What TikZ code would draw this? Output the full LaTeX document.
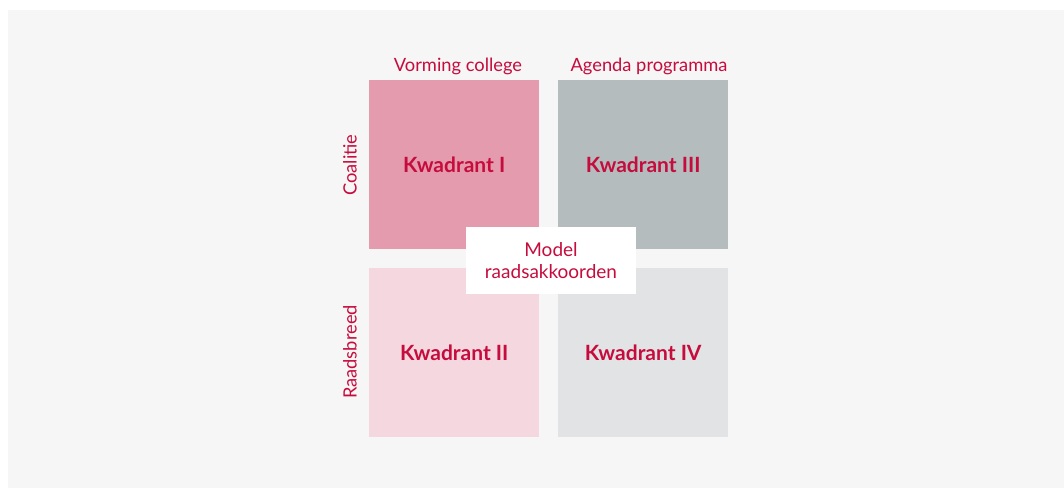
\documentclass[tikz,border=0pt]{standalone}
\usepackage{fontspec}
\setmainfont{Lato}
\definecolor{bgc}{HTML}{F6F6F6}
\definecolor{txt}{HTML}{C60C3D}
\definecolor{qone}{HTML}{E49BAE}
\definecolor{qtwo}{HTML}{F5D7DF}
\definecolor{qthree}{HTML}{B4BCBD}
\definecolor{qfour}{HTML}{E2E3E5}
\tikzset{
  quad/.style={minimum width=170pt, minimum height=169pt, inner sep=0pt, anchor=north west, text=txt, font=\fontsize{21}{24}\selectfont\bfseries},
  lab/.style={text=txt, font=\fontsize{18.3}{22}\selectfont, inner sep=0pt},
  modelbox/.style={fill=white, text=txt, align=center, minimum width=170pt, minimum height=67pt, inner sep=0pt, font=\fontsize{19}{22}\selectfont}
}
\begin{document}
\begin{tikzpicture}[x=1pt,y=-1pt]
\useasboundingbox (0,0) rectangle (1064,488);
\fill[white] (0,0) rectangle (1064,488);
\fill[bgc] (8,10) rectangle (1064,488);
\node[quad, fill=qone] (q1) at (369,80) {Kwadrant I};
\node[quad, fill=qthree] (q3) at (558,80) {Kwadrant III};
\node[quad, fill=qtwo] (q2) at (369,268) {Kwadrant II};
\node[quad, fill=qfour] (q4) at (558,268) {Kwadrant IV};
\node[modelbox] (m) at (551,260.5) {Model\\raadsakkoorden};
\node[lab] (vc) at (458,66) {Vorming college};
\node[lab] (ap) at (649,66) {Agenda programma};
\node[lab, rotate=90] (co) at (350,165) {Coalitie};
\node[lab, rotate=90] (rb) at (350,352) {Raadsbreed};
\end{tikzpicture}
\end{document}
